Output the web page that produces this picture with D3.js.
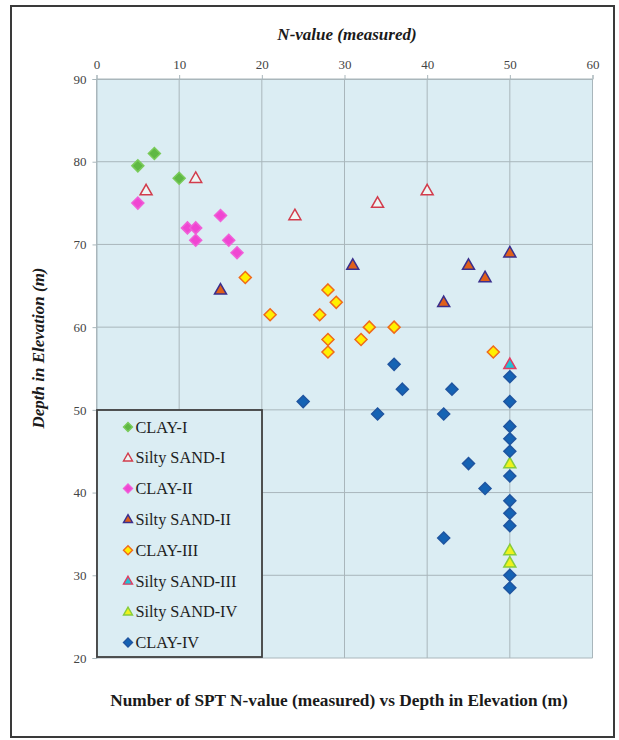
<!DOCTYPE html>
<html>
<head>
<meta charset="utf-8">
<script src="https://cdn.jsdelivr.net/npm/d3@7"></script>
<style>
  html, body { margin: 0; padding: 0; background: #ffffff; }
  svg { display: block; }
</style>
</head>
<body>
<svg id="chart" width="619" height="740"></svg>
<script>
// ---------------- DATA ----------------
const xTicks = [0, 10, 20, 30, 40, 50, 60];
const yTicks = [20, 30, 40, 50, 60, 70, 80, 90];

const seriesNames = ["CLAY-I", "Silty SAND-I", "CLAY-II", "Silty SAND-II",
                     "CLAY-III", "Silty SAND-III", "Silty SAND-IV", "CLAY-IV"];

// [N-value, Depth in Elevation]
const clay1 = [[7, 81], [5, 79.5], [10, 78]];
const siltySand1 = [[6, 76.5], [12, 78], [24, 73.5], [34, 75], [40, 76.5]];
const clay2 = [[5, 75], [15, 73.5], [11, 72], [12, 72], [12, 70.5], [16, 70.5], [17, 69]];
const siltySand2 = [[15, 64.5], [31, 67.5], [45, 67.5], [47, 66], [50, 69], [42, 63]];
const clay3 = [[18, 66], [21, 61.5], [28, 64.5], [29, 63], [27, 61.5], [33, 60], [36, 60],
               [28, 58.5], [28, 57], [32, 58.5], [48, 57]];
const siltySand3 = [[50, 55.5]];
const siltySand4 = [[50, 43.5], [50, 33], [50, 31.5]];
const clay4 = [[36, 55.5], [37, 52.5], [43, 52.5], [25, 51], [34, 49.5], [42, 49.5],
               [45, 43.5], [47, 40.5], [42, 34.5],
               [50, 54], [50, 51], [50, 48], [50, 46.5], [50, 45], [50, 42], [50, 39],
               [50, 37.5], [50, 36], [50, 30], [50, 28.5]];

const seriesData = [clay1, siltySand1, clay2, siltySand2, clay3, siltySand3, siltySand4, clay4];

// ---------------- STYLE ----------------
const seriesStyle = [
  { shape: "diamond",  fill: "#5fb844", stroke: "#7acb5a" },
  { shape: "triangle", fill: "#eef6f4", stroke: "#d23c4c" },
  { shape: "diamond",  fill: "#f046d2", stroke: "#f060d8" },
  { shape: "triangle", fill: "#e0601a", stroke: "#3b2f8c" },
  { shape: "diamond",  fill: "#fff000", stroke: "#f06a1a" },
  { shape: "triangle", fill: "#22c0d4", stroke: "#e23c62" },
  { shape: "triangle", fill: "#eef21c", stroke: "#86cc3c" },
  { shape: "diamond",  fill: "#1563b4", stroke: "#1f55a0" }
];

const svg = d3.select("#chart");
const serif = "'Liberation Serif', 'Times New Roman', serif";

// outer frame
svg.append("rect")
  .attr("x", 11).attr("y", 6).attr("width", 603).attr("height", 731)
  .attr("fill", "#ffffff").attr("stroke", "#3a3a3a").attr("stroke-width", 2);

const plot = { left: 96.5, right: 592.5, top: 79, bottom: 658 };
const x = d3.scaleLinear().domain([0, 60]).range([plot.left, plot.right]);
const y = d3.scaleLinear().domain([20, 90]).range([plot.bottom, plot.top]);

// plot background
svg.append("rect")
  .attr("x", plot.left).attr("y", plot.top)
  .attr("width", plot.right - plot.left).attr("height", plot.bottom - plot.top)
  .attr("fill", "#dbedf3");

// gridlines
const grid = svg.append("g").attr("stroke", "#a9b6bb").attr("stroke-width", 1);
grid.selectAll("line.v").data(xTicks).join("line").attr("class", "v")
  .attr("x1", d => x(d)).attr("x2", d => x(d))
  .attr("y1", plot.top).attr("y2", plot.bottom);
grid.selectAll("line.h").data(yTicks).join("line").attr("class", "h")
  .attr("y1", d => y(d)).attr("y2", d => y(d))
  .attr("x1", plot.left).attr("x2", plot.right);

// axes
const xAxis = svg.append("g").attr("transform", `translate(0,${plot.top})`)
  .call(d3.axisTop(x).tickValues(xTicks).tickSize(4).tickPadding(6).tickFormat(d3.format("d")));
const yAxis = svg.append("g").attr("transform", `translate(${plot.left},0)`)
  .call(d3.axisLeft(y).tickValues(yTicks).tickSize(4).tickPadding(6).tickFormat(d3.format("d")));
[xAxis, yAxis].forEach(a => {
  a.attr("font-family", serif);
  a.select(".domain").attr("stroke", "#a9b6bb");
  a.selectAll(".tick line").attr("stroke", "#a9b6bb");
  a.selectAll(".tick text").attr("fill", "#444").style("font-family", serif).style("font-size", "13px");
});

// axis titles
svg.append("text")
  .attr("x", 347).attr("y", 40)
  .attr("text-anchor", "middle")
  .style("font-family", serif).style("font-size", "17px")
  .style("font-weight", "bold").style("font-style", "italic")
  .attr("fill", "#1a1a1a")
  .text("N-value (measured)");

svg.append("text")
  .attr("transform", "translate(44,348) rotate(-90)")
  .attr("text-anchor", "middle")
  .style("font-family", serif).style("font-size", "17px")
  .style("font-weight", "bold").style("font-style", "italic")
  .attr("fill", "#1a1a1a")
  .text("Depth in Elevation (m)");

svg.append("text")
  .attr("x", 339).attr("y", 706)
  .attr("text-anchor", "middle")
  .style("font-family", serif).style("font-size", "17.3px")
  .style("font-weight", "bold")
  .attr("fill", "#1a1a1a")
  .text("Number of SPT N-value (measured) vs Depth in Elevation (m)");

// marker path generator
function markerPath(shape, s) {
  if (shape === "diamond") {
    return `M0,${-s}L${s},0L0,${s}L${-s},0Z`;
  }
  const h = s * 1.75;
  return `M0,${-h * 0.6}L${s},${h * 0.4}L${-s},${h * 0.4}Z`;
}

// points
seriesData.forEach((pts, i) => {
  const st = seriesStyle[i];
  svg.append("g").selectAll("path").data(pts).join("path")
    .attr("transform", d => `translate(${x(d[0])},${y(d[1])})`)
    .attr("d", markerPath(st.shape, 6))
    .attr("fill", st.fill).attr("stroke", st.stroke).attr("stroke-width", 1.5);
});

// legend
const legend = svg.append("g");
legend.append("rect")
  .attr("x", 97).attr("y", 410).attr("width", 165).attr("height", 247)
  .attr("fill", "#dbedf3").attr("stroke", "#404040").attr("stroke-width", 1.8);
seriesNames.forEach((name, i) => {
  const st = seriesStyle[i];
  const ly = 427 + i * 30.8;
  legend.append("path")
    .attr("transform", `translate(128,${ly})`)
    .attr("d", markerPath(st.shape, 4.5))
    .attr("fill", st.fill).attr("stroke", st.stroke).attr("stroke-width", 1.4);
  legend.append("text")
    .attr("x", 135.5).attr("y", ly + 5.5)
    .style("font-family", serif).style("font-size", "16.3px")
    .attr("fill", "#1e1e1e")
    .text(name);
});
</script>
</body>
</html>
